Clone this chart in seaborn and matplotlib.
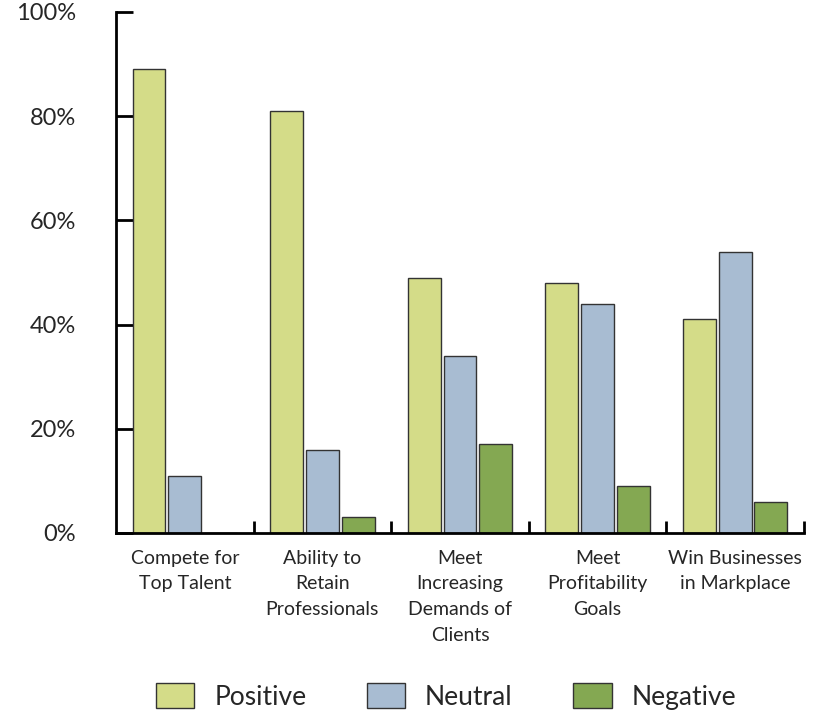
import matplotlib
matplotlib.use("Agg")
import matplotlib.pyplot as plt
from matplotlib.ticker import FixedLocator, FuncFormatter
import seaborn as sns
import pandas as pd

categories = [
    "Compete for\nTop Talent",
    "Ability to\nRetain\nProfessionals",
    "Meet\nIncreasing\nDemands of\nClients",
    "Meet\nProfitability\nGoals",
    "Win Businesses\nin Markplace",
]
positive = [89, 81, 49, 48, 41]
neutral = [11, 16, 34, 44, 54]
negative = [0, 3, 17, 9, 6]
series = ["Positive", "Neutral", "Negative"]
colors = ["#d4dc88", "#a8bcd2", "#84a852"]
y_ticks = [0, 20, 40, 60, 80, 100]

rows = []
for name, vals in zip(series, [positive, neutral, negative]):
    for cat, v in zip(categories, vals):
        rows.append({"category": cat, "series": name, "value": v})
df = pd.DataFrame(rows)

sns.set_style("white")
plt.rcParams["font.family"] = ["Lato", "DejaVu Sans"]

fig = plt.figure(figsize=(8.17, 7.13), dpi=100)
ax = fig.add_axes([0.142, 0.2525, 0.842, 0.7307])

sns.barplot(
    data=df, x="category", y="value", hue="series",
    hue_order=series, order=categories, palette=colors, saturation=1,
    width=0.78, gap=0.08, edgecolor="#333333", linewidth=1.0,
    errorbar=None, ax=ax,
)

ax.set_ylim(0, 100)
ax.set_xlim(-0.5, len(categories) - 0.5)
ax.set_xlabel("")
ax.set_ylabel("")

for side in ["top", "right"]:
    ax.spines[side].set_visible(False)
for side in ["left", "bottom"]:
    ax.spines[side].set_color("black")
    ax.spines[side].set_linewidth(2)

ax.yaxis.set_major_locator(FixedLocator(y_ticks))
ax.yaxis.set_major_formatter(FuncFormatter(lambda v, p: f"{int(v)}%"))
ax.tick_params(axis="y", direction="in", length=12, width=2, color="black",
               pad=29, labelsize=17, left=True)

# category separators on the x axis
ax.set_xticks(range(len(categories)))
ax.set_xticklabels(categories, fontsize=14, linespacing=1.62)
ax.xaxis.set_minor_locator(FixedLocator([i + 0.5 for i in range(len(categories))]))
ax.tick_params(axis="x", which="major", length=0, pad=12)
ax.tick_params(axis="x", which="minor", direction="in", length=9, width=2,
               color="black", bottom=True)

handles, labels = ax.get_legend_handles_labels()
ax.legend_.remove()
fig.legend(handles, labels, loc="center", bbox_to_anchor=(0.546, 0.023),
           ncol=3, frameon=False, fontsize=19, handlelength=1.45,
           handleheight=1.05, handletextpad=0.75, columnspacing=2.3)

fig.savefig("out.png", dpi=100)
